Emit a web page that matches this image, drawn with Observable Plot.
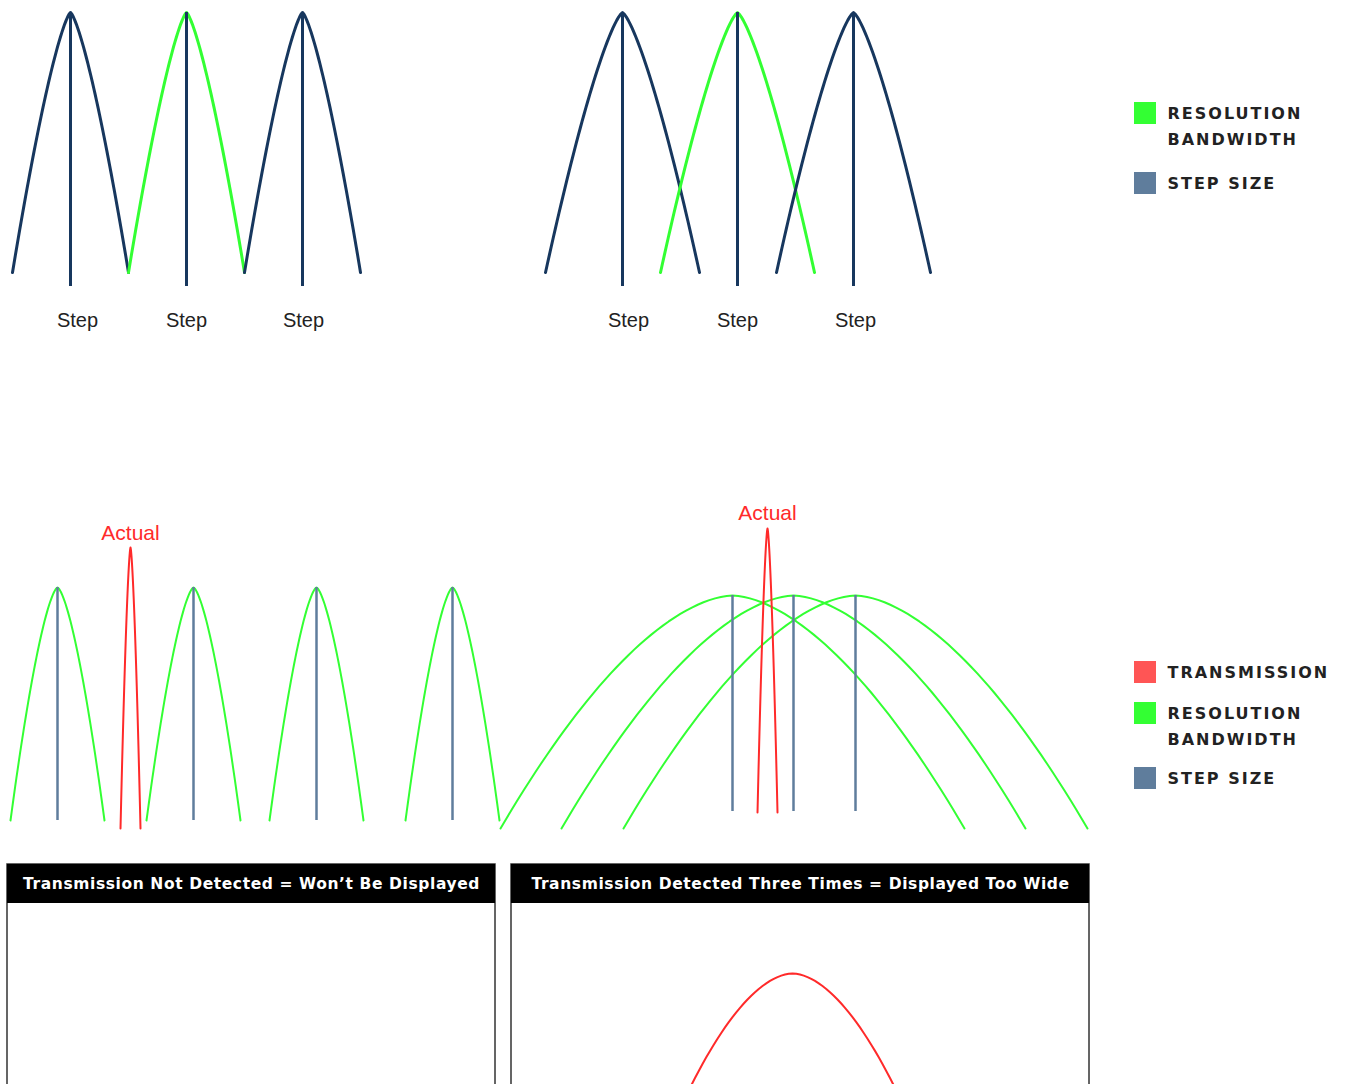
<!DOCTYPE html>
<html><head><meta charset="utf-8">
<script src="https://cdn.jsdelivr.net/npm/d3@7"></script>
<script src="https://cdn.jsdelivr.net/npm/@observablehq/plot@0.6"></script>
<style>body{margin:0;background:#fff} .leg text{letter-spacing:2px} .hdr text{letter-spacing:0.6px}</style>
</head><body><div id="chart"></div>
<script>
const navy = "#17375e", green = "#33ff33", steel = "#5f7d9c", red = "#ff2a2a"

// arches: peak x, colour
const topLeft = [[70, "n"], [186, "g"], [302, "n"]]
const topRight = [[622, "n"], [737, "g"], [853, "n"]]
const botLeftGreen = [57, 193, 316, 452]
const botRightGreen = [732, 793, 855]
const stepLabels = [77, 186, 303, 628, 737, 855]
const actuals = [[130, 547, 533], [767, 528, 513]]
const headers = [[7, 495, "Transmission Not Detected = Won’t Be Displayed"], [511, 1089, "Transmission Detected Three Times = Displayed Too Wide"]]
const legendTop = [[green, ["RESOLUTION", "BANDWIDTH"], 113], [steel, ["STEP SIZE"], 183]]
const legendBot = [["#ff5555", ["TRANSMISSION"], 672], [green, ["RESOLUTION", "BANDWIDTH"], 713], [steel, ["STEP SIZE"], 778]]

function arch(cx, top, base, hw, id, p = 1.6) {
  const pts = []
  for (let i = -40; i <= 40; i++) {
    const dx = i / 40
    pts.push({x: cx + dx * hw, y: top + (base - top) * Math.pow(Math.abs(dx), p), id})
  }
  return pts
}

const arches = [], stems = []
let k = 0
topLeft.forEach(([c, t]) => { arches.push({pts: arch(c, 12, 272, 58, k++, 1.35), color: t == "g" ? green : navy, w: 3}); stems.push({x: c, y1: 12, y2: 286, color: navy, w: 3}) })
topRight.forEach(([c, t]) => { arches.push({pts: arch(c, 12, 272, 77, k++, 1.35), color: t == "g" ? green : navy, w: 3}); stems.push({x: c, y1: 12, y2: 286, color: navy, w: 3}) })
botLeftGreen.forEach(c => { arches.push({pts: arch(c, 587, 820, 47, k++, 1.5), color: green, w: 2}); stems.push({x: c, y1: 587, y2: 820, color: steel, w: 2.5}) })
botRightGreen.forEach(c => { arches.push({pts: arch(c, 595, 828, 232, k++, 1.7), color: green, w: 2}); stems.push({x: c, y1: 595, y2: 811, color: steel, w: 2.5}) })
arches.push({pts: arch(130, 547, 828, 10, k++, 1.5), color: red, w: 2})
arches.push({pts: arch(767, 528, 812, 10, k++, 1.5), color: red, w: 2})
arches.push({pts: arch(792, 973, 1200, 150, k++, 1.8), color: red, w: 2})

const legRows = []
;[...legendTop, ...legendBot].forEach(([c, lines, y]) => lines.forEach((l, i) => legRows.push({c, l, y: y + i * 26, first: i == 0})))

const chart = Plot.plot({
  width: 1352, height: 1084, margin: 0,
  x: {domain: [0, 1352], range: [0, 1352], axis: null},
  y: {domain: [0, 1084], range: [0, 1084], axis: null},
  style: {fontFamily: "Arial, 'Liberation Sans', sans-serif"},
  marks: [
    Plot.rect(headers, {x1: d => d[0], x2: d => d[1], y1: 864, y2: 1100, stroke: "#333", strokeWidth: 1.5, fill: "white"}),
    Plot.rect(headers, {x1: d => d[0], x2: d => d[1], y1: 864, y2: 903, fill: "black"}),
    Plot.text(headers, {x: d => (d[0] + d[1]) / 2, y: 884, text: d => d[2], fill: "white", fontWeight: "bold", fontSize: 15.5, fontFamily: "Verdana, 'DejaVu Sans', sans-serif", className: "hdr"}),
    ...arches.map(a => Plot.line(a.pts, {x: "x", y: "y", stroke: a.color, strokeWidth: a.w, curve: "linear", clip: true})),
    Plot.ruleX(stems, {x: "x", y1: "y1", y2: "y2", stroke: d => d.color, strokeWidth: d => d.w}),
    Plot.text(stepLabels, {x: d => d, y: 320, text: () => "Step", fontSize: 20, fill: "#222"}),
    Plot.text(actuals, {x: d => d[0], y: d => d[2], text: () => "Actual", fontSize: 21, fill: red}),
    Plot.rect(legRows.filter(d => d.first), {x1: 1134, x2: 1156, y1: d => d.y - 11, y2: d => d.y + 11, fill: "c"}),
    Plot.text(legRows, {x: 1167, y: "y", text: "l", textAnchor: "start", fontWeight: "bold", fontSize: 16, fill: "#222", fontFamily: "Verdana, 'DejaVu Sans', sans-serif", className: "leg"})
  ]
})
document.getElementById("chart").append(chart)
</script></body></html>
